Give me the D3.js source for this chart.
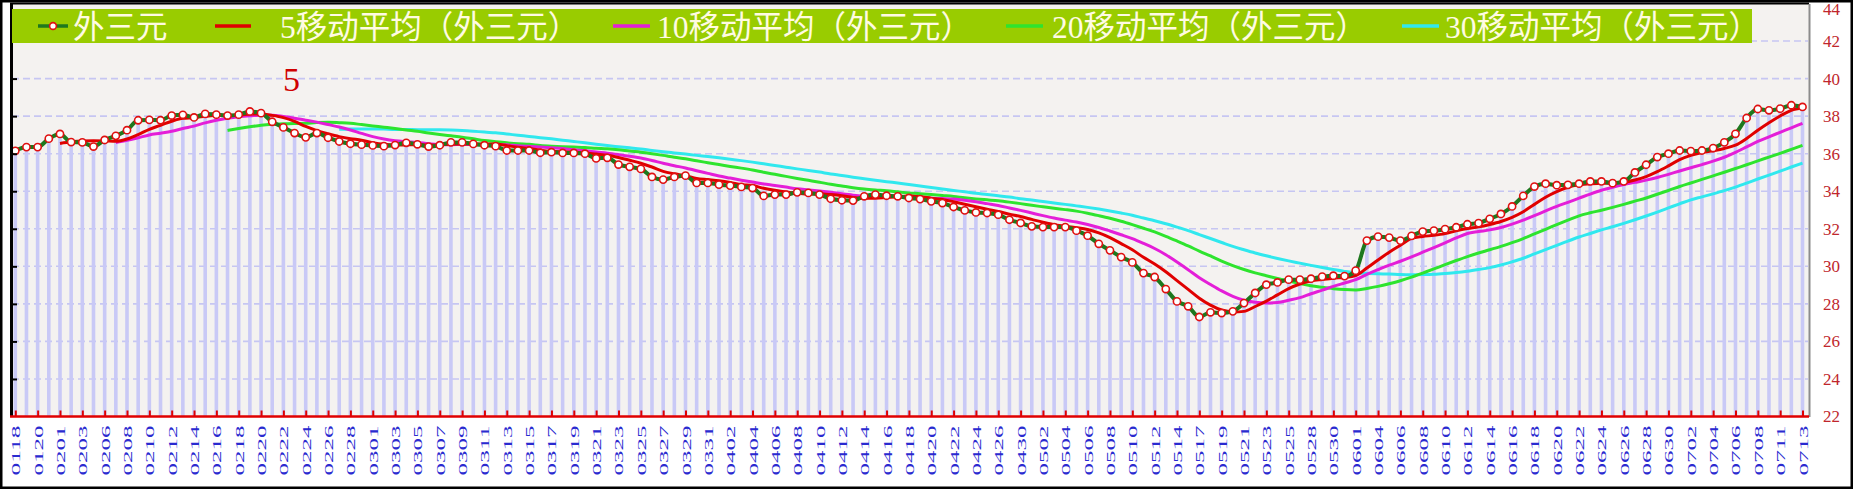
<!DOCTYPE html>
<html><head><meta charset="utf-8">
<script src="https://cdn.jsdelivr.net/npm/d3@7"></script>
<style>html,body{margin:0;padding:0;background:#fff;overflow:hidden}</style>
</head><body><svg id="c" width="1853" height="489"></svg>
<script>
const dates = ["0118","0119","0120","0121","0201","0202","0203","0205","0206","0207","0208","0209","0210","0211","0212","0213","0214","0215","0216","0217","0218","0219","0220","0221","0222","0223","0224","0225","0226","0227","0228","0229","0301","0302","0303","0304","0305","0306","0307","0308","0309","0310","0311","0312","0313","0314","0315","0316","0317","0318","0319","0320","0321","0322","0323","0324","0325","0326","0327","0328","0329","0330","0331","0401","0402","0403","0404","0405","0406","0407","0408","0409","0410","0411","0412","0413","0414","0415","0416","0417","0418","0419","0420","0421","0422","0423","0424","0425","0426","0428","0430","0501","0502","0503","0504","0505","0506","0507","0508","0509","0510","0511","0512","0513","0514","0516","0517","0518","0519","0520","0521","0522","0523","0524","0525","0527","0528","0529","0530","0531","0601","0603","0604","0605","0606","0607","0608","0609","0610","0611","0612","0613","0614","0615","0616","0617","0618","0619","0620","0621","0622","0623","0624","0625","0626","0627","0628","0629","0630","0701","0702","0703","0704","0705","0706","0707","0708","0710","0711","0712","0713"];

const values = [36.15,36.35,36.35,36.8,37.05,36.62,36.6,36.38,36.73,36.95,
37.25,37.78,37.8,37.78,38.03,38.07,37.93,38.12,38.08,38.03,
38.08,38.25,38.16,37.7,37.4,37.1,36.87,37.1,36.85,36.65,
36.53,36.48,36.44,36.4,36.46,36.58,36.5,36.38,36.45,36.6,
36.6,36.52,36.45,36.4,36.17,36.17,36.17,36.05,36.08,36.04,
36.04,36.0,35.75,35.78,35.42,35.3,35.19,34.76,34.62,34.76,
34.83,34.44,34.44,34.35,34.3,34.23,34.17,33.75,33.82,33.82,
33.94,33.91,33.82,33.6,33.52,33.5,33.73,33.82,33.76,33.73,
33.64,33.58,33.46,33.37,33.16,32.98,32.87,32.84,32.75,32.48,
32.31,32.13,32.09,32.09,32.09,31.9,31.63,31.2,30.85,30.49,
30.21,29.64,29.43,28.79,28.13,27.87,27.3,27.55,27.51,27.6,
28.04,28.58,29.02,29.14,29.29,29.29,29.34,29.45,29.5,29.48,
29.77,31.37,31.58,31.53,31.37,31.62,31.85,31.9,31.98,32.08,
32.24,32.3,32.53,32.79,33.19,33.75,34.25,34.4,34.32,34.34,
34.4,34.52,34.52,34.43,34.52,35.0,35.41,35.82,36.0,36.17,
36.14,36.17,36.3,36.6,37.06,37.9,38.38,38.31,38.4,38.58,
38.49];

const ma5 = [null,null,null,null,
36.54,36.63,36.68,36.69,36.68,36.66,
36.78,37.02,37.30,37.51,37.73,37.89,37.92,37.99,38.05,38.05,
38.05,38.11,38.12,38.04,37.92,37.72,37.45,37.23,37.06,36.91,
36.80,36.72,36.59,36.50,36.46,36.47,36.48,36.46,36.47,36.50,
36.51,36.51,36.52,36.51,36.43,36.34,36.27,36.19,36.13,36.10,
36.08,36.04,35.98,35.92,35.80,35.65,35.49,35.29,35.06,34.93,
34.83,34.68,34.62,34.56,34.47,34.35,34.30,34.16,34.05,33.96,
33.90,33.85,33.86,33.82,33.76,33.67,33.63,33.63,33.67,33.71,
33.74,33.71,33.63,33.56,33.44,33.31,33.17,33.04,32.92,32.78,
32.65,32.50,32.35,32.22,32.14,32.06,31.96,31.78,31.53,31.21,
30.88,30.48,30.12,29.71,29.24,28.77,28.30,27.93,27.67,27.57,
27.60,27.86,28.15,28.48,28.81,29.06,29.22,29.30,29.37,29.41,
29.51,29.91,30.34,30.75,31.12,31.49,31.59,31.65,31.74,31.89,
32.01,32.10,32.23,32.39,32.61,32.91,33.30,33.68,33.98,34.21,
34.34,34.40,34.42,34.44,34.48,34.60,34.78,35.04,35.35,35.68,
35.91,36.06,36.16,36.28,36.45,36.81,37.25,37.65,38.01,38.31,
38.43];

const ma10 = [null,null,null,null,null,null,null,null,null,
36.60,
36.71,36.85,37.00,37.09,37.19,37.34,37.47,37.64,37.78,37.89,
37.97,38.02,38.05,38.05,37.98,37.89,37.78,37.68,37.55,37.42,
37.26,37.08,36.91,36.78,36.69,36.64,36.60,36.53,36.49,36.48,
36.49,36.49,36.49,36.49,36.47,36.42,36.39,36.36,36.32,36.27,
36.21,36.16,36.09,36.03,35.95,35.86,35.77,35.64,35.49,35.36,
35.24,35.09,34.95,34.81,34.70,34.59,34.49,34.39,34.31,34.22,
34.13,34.07,34.01,33.94,33.86,33.79,33.74,33.75,33.74,33.73,
33.70,33.67,33.63,33.61,33.58,33.52,33.44,33.34,33.24,33.11,
32.98,32.84,32.70,32.57,32.46,32.36,32.23,32.07,31.88,31.68,
31.47,31.22,30.95,30.62,30.23,29.82,29.39,29.03,28.69,28.40,
28.19,28.08,28.04,28.07,28.19,28.33,28.54,28.73,28.93,29.11,
29.29,29.57,29.82,30.06,30.27,30.50,30.75,31.00,31.25,31.51,
31.75,31.85,31.94,32.07,32.25,32.46,32.70,32.95,33.19,33.41,
33.63,33.85,34.05,34.21,34.35,34.47,34.59,34.73,34.90,35.08,
35.25,35.42,35.60,35.81,36.07,36.36,36.65,36.90,37.14,37.38,
37.62];

const ma20 = [null,null,null,null,null,null,null,null,null,null,
null,null,null,null,null,null,null,null,null,
37.24,
37.34,37.43,37.52,37.57,37.59,37.61,37.62,37.66,37.67,37.65,
37.62,37.55,37.48,37.41,37.34,37.26,37.19,37.10,37.02,36.95,
36.88,36.79,36.70,36.64,36.58,36.53,36.50,36.44,36.40,36.37,
36.35,36.33,36.29,36.26,36.21,36.14,36.08,36.00,35.91,35.81,
35.73,35.62,35.52,35.42,35.32,35.23,35.13,35.01,34.90,34.79,
34.68,34.58,34.48,34.37,34.28,34.19,34.12,34.07,34.03,33.97,
33.91,33.87,33.82,33.77,33.72,33.65,33.59,33.54,33.49,33.42,
33.34,33.25,33.17,33.09,33.02,32.94,32.83,32.70,32.56,32.40,
32.22,32.03,31.83,31.60,31.35,31.09,30.81,30.55,30.28,30.04,
29.83,29.65,29.50,29.35,29.21,29.08,28.96,28.88,28.81,28.76,
28.74,28.82,28.93,29.07,29.23,29.42,29.64,29.86,30.09,30.31,
30.52,30.71,30.88,31.06,31.26,31.48,31.73,31.97,32.22,32.46,
32.69,32.85,32.99,33.14,33.30,33.47,33.64,33.84,34.04,34.25,
34.44,34.63,34.82,35.01,35.21,35.41,35.62,35.82,36.02,36.23,
36.44];

const ma30 = [null,null,null,null,null,null,null,null,null,null,
null,null,null,null,null,null,null,null,null,null,
null,null,null,null,null,null,null,null,null,
37.30,
37.31,37.32,37.32,37.31,37.29,37.29,37.28,37.28,37.27,37.26,
37.24,37.20,37.15,37.11,37.05,36.98,36.92,36.85,36.79,36.72,
36.65,36.58,36.50,36.43,36.37,36.31,36.25,36.17,36.10,36.04,
35.98,35.91,35.85,35.78,35.70,35.63,35.55,35.46,35.37,35.28,
35.19,35.11,35.02,34.92,34.84,34.75,34.67,34.59,34.51,34.44,
34.36,34.28,34.20,34.12,34.04,33.97,33.89,33.83,33.76,33.69,
33.60,33.53,33.45,33.37,33.30,33.22,33.14,33.05,32.95,32.84,
32.72,32.57,32.43,32.27,32.09,31.90,31.69,31.48,31.27,31.06,
30.88,30.71,30.56,30.42,30.29,30.17,30.05,29.94,29.83,29.73,
29.65,29.62,29.60,29.59,29.56,29.55,29.56,29.58,29.62,29.67,
29.74,29.83,29.93,30.07,30.24,30.43,30.66,30.89,31.12,31.34,
31.56,31.75,31.94,32.11,32.29,32.48,32.68,32.89,33.11,33.33,
33.54,33.70,33.86,34.03,34.22,34.43,34.65,34.86,35.07,35.29,
35.50];

const yTicks = [22,24,26,28,30,32,34,36,38,40,42,44];
const seriesNames = ["外三元","5移动平均（外三元）","10移动平均（外三元）","20移动平均（外三元）","30移动平均（外三元）"];
const annotation = "5";

// ---------- drawing ----------
const W = 1853, H = 489;
const PL = 10, PR = 1809, PT = 3.5, PB = 416.5;
const svg = d3.select('#c');
const x = d3.scalePoint().domain(dates).range([15.3, 1802.5]);
const y = d3.scaleLinear().domain([22, 44]).range([PB, PT]);

svg.append('rect').attr('width', W).attr('height', H).attr('fill', '#fff');
svg.append('rect').attr('x', PL).attr('y', PT).attr('width', PR - PL).attr('height', PB - PT).attr('fill', '#f4f2f0');

// horizontal dashed grid
svg.append('g').selectAll('line').data(yTicks.filter(t => t > 22 && t < 44)).join('line')
  .attr('x1', PL + 2).attr('x2', PR - 1).attr('y1', d => y(d)).attr('y2', d => y(d))
  .attr('stroke', '#c6c6f2').attr('stroke-width', 1.6).attr('stroke-dasharray', '7,4');

// lavender bars
svg.append('g').selectAll('rect').data(values).join('rect')
  .attr('x', (d, i) => x(dates[i]) - 1.8).attr('width', 3.6)
  .attr('y', d => y(d)).attr('height', d => y(22) - y(d))
  .attr('fill', '#c9c9f6');

const line = d3.line().defined(d => d != null)
  .x((d, i) => x(dates[i])).y(d => y(d)).curve(d3.curveMonotoneX);

const maSeries = [
  {data: ma30, color: '#30e8ee'},
  {data: ma20, color: '#2ee42e'},
  {data: ma10, color: '#e41ed8'},
  {data: ma5,  color: '#e00000'}
];
maSeries.forEach(s => {
  svg.append('path').datum(s.data).attr('d', line)
    .attr('fill', 'none').attr('stroke', s.color).attr('stroke-width', 3)
    .attr('stroke-linejoin', 'round');
});

svg.append('path').datum(values).attr('d', line)
  .attr('fill', 'none').attr('stroke', '#1e781e').attr('stroke-width', 4).attr('stroke-linejoin', 'round');
svg.append('g').selectAll('circle').data(values).join('circle')
  .attr('cx', (d, i) => x(dates[i])).attr('cy', d => y(d)).attr('r', 3.6)
  .attr('fill', '#fff').attr('stroke', '#e01010').attr('stroke-width', 1.6);

// left axis (black, inner ticks, no labels)
const gl = svg.append('g').attr('transform', `translate(${PL + 1},0)`)
  .call(d3.axisLeft(y).tickValues(yTicks.filter(t => t > 22 && t < 44)).tickSizeInner(-6).tickSizeOuter(0).tickFormat(''));
gl.select('.domain').attr('stroke', '#000').attr('stroke-width', 3);
gl.selectAll('.tick line').attr('stroke', '#000').attr('stroke-width', 2);

// top border
svg.append('line').attr('x1', PL).attr('x2', PR).attr('y1', PT).attr('y2', PT).attr('stroke', '#000').attr('stroke-width', 2);

// right axis
const gr = svg.append('g').attr('transform', `translate(${PR},0)`)
  .call(d3.axisRight(y).tickValues(yTicks).tickSizeInner(0).tickSizeOuter(0).tickPadding(14));
gr.select('.domain').attr('stroke', '#8c8c8c').attr('stroke-width', 2);
gr.selectAll('text').attr('fill', '#c0262c').style('font-family', '"Liberation Serif", serif').style('font-size', '17px');
// keep the top label inside the frame
gr.selectAll('.tick').filter(d => d === 44).select('text').attr('dy', '0.64em');

// bottom axis (red line + upward ticks + rotated blue labels)
svg.append('line').attr('x1', PL).attr('x2', PR).attr('y1', PB).attr('y2', PB).attr('stroke', '#e00000').attr('stroke-width', 2.5);
const gb = svg.append('g').attr('transform', `translate(0,${PB})`)
  .call(d3.axisBottom(x).tickValues(dates.filter((d, i) => i % 2 === 0)).tickSizeInner(-6).tickSizeOuter(0));
gb.select('.domain').remove();
gb.selectAll('.tick line').attr('stroke', '#e00000').attr('stroke-width', 2);
gb.selectAll('.tick text')
  .attr('transform', 'rotate(-90)').attr('text-anchor', 'end')
  .attr('x', -9).attr('y', 0).attr('dy', '0.36em')
  .attr('textLength', 50).attr('lengthAdjust', 'spacingAndGlyphs')
  .attr('fill', '#2a2ad0').style('font-family', '"Liberation Serif", serif').style('font-size', '12.5px');

// legend band
svg.append('rect').attr('x', 12).attr('y', 9).attr('width', 1740).attr('height', 34).attr('fill', '#99cc00');
const legendItems = [
  {name: seriesNames[0], color: '#1e781e', lx: 38, len: 30, tx: 73, marker: true},
  {name: seriesNames[1], color: '#e00000', lx: 215, len: 36, tx: 280},
  {name: seriesNames[2], color: '#e41ed8', lx: 613, len: 37, tx: 657},
  {name: seriesNames[3], color: '#2ee42e', lx: 1006, len: 37, tx: 1052},
  {name: seriesNames[4], color: '#30e8ee', lx: 1402, len: 37, tx: 1445}
];
const lg = svg.append('g');
legendItems.forEach(it => {
  lg.append('line').attr('x1', it.lx).attr('x2', it.lx + it.len).attr('y1', 26).attr('y2', 26)
    .attr('stroke', it.color).attr('stroke-width', 3.5);
  if (it.marker) {
    lg.append('circle').attr('cx', it.lx + it.len / 2).attr('cy', 26).attr('r', 3.4)
      .attr('fill', '#fff').attr('stroke', '#e01010').attr('stroke-width', 1.6);
  }
  lg.append('text').attr('x', it.tx).attr('y', 37.5).text(it.name)
    .attr('fill', '#fffbe2').style('font-family', '"Liberation Serif", "Noto Sans CJK SC", serif').style('font-size', '31.5px');
});

// annotation
svg.append('text').attr('x', 283).attr('y', 91).text(annotation)
  .attr('fill', '#d00000').style('font-family', '"Liberation Serif", serif').style('font-size', '34px');

// outer frame
svg.append('rect').attr('x', 1.25).attr('y', 1.25).attr('width', W - 2.5).attr('height', H - 2.5)
  .attr('fill', 'none').attr('stroke', '#000').attr('stroke-width', 2.5);
</script></body></html>
